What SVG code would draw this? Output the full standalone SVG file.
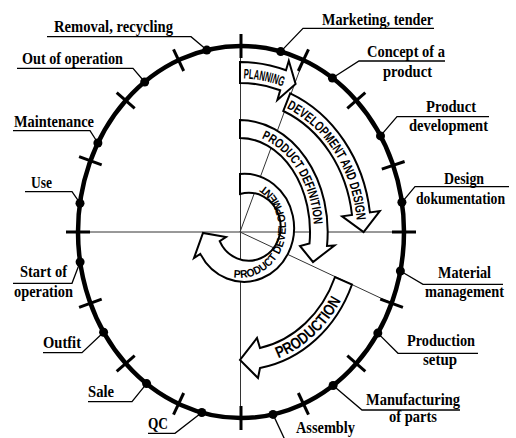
<svg xmlns="http://www.w3.org/2000/svg" width="516" height="438" viewBox="0 0 516 438">
  <style>
    .axis{fill:none;stroke:#333;stroke-width:1}
    .ring{fill:none;stroke:#000;stroke-width:4.5}
    .tick{stroke:#000;stroke-width:3}
    .dot{fill:#000}
    .lead{fill:none;stroke:#000;stroke-width:1.3}
    .lbl{font-family:"Liberation Serif","Times New Roman",serif;font-weight:bold;font-size:16.5px;fill:#000}
    .band{fill:#fff;stroke:#000;stroke-width:2;stroke-linejoin:miter}
    .btxt{font-family:"Liberation Sans",Arial,sans-serif;font-weight:bold;fill:#000}
  </style>
  <defs>
    <!-- baselines for the lettering inside the phase arrows -->
    <path id="tpPlan" d="M243.5,78.55 A134,153.5 0 0 1 283.6,86.9"/>
    <path id="tpDev" d="M286.6,108.2 A117,135 0 0 1 356.7,222.6"/>
    <path id="tpDef" d="M261.6,138.3 A74,98 0 0 1 313.9,226.9"/>
    <path id="tpProd" d="M278.3,358.2 A117.5,133.5 0 0 0 341.8,298.8"/>
    <path id="tpPD" d="M233.6,277.5 A46,50 0 0 0 261.6,183.9"/>
  </defs>
  <rect width="516" height="438" fill="#fff"/>

  <!-- thin construction lines -->
  <g id="axes">
    <line class="axis" x1="78" y1="232" x2="404" y2="232"/>
    <line class="axis" x1="240.5" y1="46" x2="240.5" y2="418"/>
    <line class="axis" x1="240" y1="232" x2="303.4" y2="60.2"/>
    <line class="axis" x1="240" y1="232" x2="391.6" y2="303.2"/>
  </g>

  <!-- life-cycle ring with phase ticks -->
  <g id="ring">
    <ellipse class="ring" cx="241" cy="232" rx="163" ry="186"/>
    <line class="tick" x1="241" y1="34" x2="241" y2="58"/>
    <line class="tick" x1="298.3" y1="71" x2="308.5" y2="49.4"/>
    <line class="tick" x1="347.3" y1="108.4" x2="365.3" y2="92.6"/>
    <line class="tick" x1="381.8" y1="169.1" x2="404.6" y2="161.5"/>
    <line class="tick" x1="392" y1="232" x2="416" y2="232"/>
    <line class="tick" x1="380.3" y1="299.1" x2="402.9" y2="307.3"/>
    <line class="tick" x1="347.3" y1="355.6" x2="365.3" y2="371.4"/>
    <line class="tick" x1="298.3" y1="393" x2="308.5" y2="414.6"/>
    <line class="tick" x1="241" y1="406" x2="241" y2="430"/>
    <line class="tick" x1="183.7" y1="393" x2="173.5" y2="414.6"/>
    <line class="tick" x1="134.7" y1="355.6" x2="116.7" y2="371.4"/>
    <line class="tick" x1="101.7" y1="299.1" x2="79.1" y2="307.3"/>
    <line class="tick" x1="90" y1="232" x2="66" y2="232"/>
    <line class="tick" x1="101.7" y1="164.9" x2="79.1" y2="156.7"/>
    <line class="tick" x1="134.7" y1="108.4" x2="116.7" y2="92.6"/>
    <line class="tick" x1="183.7" y1="71" x2="173.5" y2="49.4"/>
  </g>

  <!-- phase arrows -->
  <g id="planning">
    <path class="band" d="M240,62 A149,170 0 0 1 286,70.3 L288.8,60.7 L295.6,83.9 L277.4,99.9 L280.2,90.3 A130,149 0 0 0 240,83 Z"/>
    <text class="btxt" font-size="14"><textPath href="#tpPlan" textLength="40" lengthAdjust="spacingAndGlyphs">PLANNING</textPath></text>
  </g>
  <g id="development-design">
    <path class="band" d="M290.2,93.4 A131,150 0 0 1 369.9,212.4 L379.8,211 L363.6,232 L342.1,216.3 L352,214.9 A113,131 0 0 0 283.3,111 Z"/>
    <text class="btxt" font-size="13.5"><textPath href="#tpDev" textLength="138" lengthAdjust="spacingAndGlyphs">DEVELOPMENT AND DESIGN</textPath></text>
  </g>
  <g id="product-definition">
    <path class="band" d="M240,120 A88,112 0 0 1 327,246 L334.5,245.5 L313,262 L300,246 L309.5,243.5 A70,94 0 0 0 240,138 Z"/>
    <text class="btxt" font-size="13"><textPath href="#tpDef" textLength="106" lengthAdjust="spacingAndGlyphs">PRODUCT DEFINITION</textPath></text>
  </g>
  <g id="product-development">
    <path class="band" d="M240,174 A50,54 0 1 1 200.3,253.9 L194,258 L203,233 L226,237 L219.7,241.1 A32,34 0 1 0 240,194 Z"/>
    <text class="btxt" font-size="11"><textPath href="#tpPD" textLength="132" lengthAdjust="spacingAndGlyphs">PRODUCT DEVELOPMENT</textPath></text>
  </g>
  <g id="production">
    <path class="band" d="M352,284.5 A121,137 0 0 1 260,368 L258,378 L240,360 L257,338 L260,348 A103,117 0 0 0 335,277 Z"/>
    <text class="btxt" font-size="16"><textPath href="#tpProd" textLength="87" lengthAdjust="spacingAndGlyphs">PRODUCTION</textPath></text>
  </g>

  <!-- leader lines from the ring points to their labels -->
  <g id="connectors">
    <path class="lead" d="M47,36.7 H191 L206.8,50.1"/>
    <path class="lead" d="M17,68.3 H133 L144.7,82"/>
    <path class="lead" d="M13,130.7 H90 L97.9,143"/>
    <path class="lead" d="M25,191.7 H72 L80,203.2"/>
    <path class="lead" d="M13,283.3 H72 L80.1,262"/>
    <path class="lead" d="M43,352.7 H82 L103.6,332.2"/>
    <path class="lead" d="M88,401.7 H132 L146.6,383.6"/>
    <path class="lead" d="M148,433.3 H175 L201.8,412.5"/>
    <path class="lead" d="M434,28.3 H303 L280.7,51.6"/>
    <path class="lead" d="M445,61 H359 L332.4,78"/>
    <path class="lead" d="M489,116.7 H397 L380.5,135.9"/>
    <path class="lead" d="M509,186.7 H415 L401.9,202.3"/>
    <path class="lead" d="M503,284.3 H423 L400.4,271"/>
    <path class="lead" d="M478,353.3 H398 L377.8,333.1"/>
    <path class="lead" d="M460,410 H362 L333.1,385.5"/>
    <path class="lead" d="M273,414.4 L285,440"/>
  </g>

  <!-- stages on the ring -->
  <g id="marketing"><circle class="dot" cx="280.7" cy="51.6" r="4.5"/><text class="lbl" x="322" y="24.5" textLength="111" lengthAdjust="spacingAndGlyphs">Marketing, tender</text></g>
  <g id="concept"><circle class="dot" cx="332.4" cy="78" r="4.5"/><text class="lbl" x="367" y="57.3" textLength="78" lengthAdjust="spacingAndGlyphs">Concept of a</text><text class="lbl" x="383" y="76.5" textLength="49" lengthAdjust="spacingAndGlyphs">product</text></g>
  <g id="product-dev"><circle class="dot" cx="380.5" cy="135.9" r="4.5"/><text class="lbl" x="426" y="112" textLength="50" lengthAdjust="spacingAndGlyphs">Product</text><text class="lbl" x="409" y="130.7" textLength="79" lengthAdjust="spacingAndGlyphs">development</text></g>
  <g id="design-doc"><circle class="dot" cx="401.9" cy="202.3" r="4.5"/><text class="lbl" x="444" y="184" textLength="40" lengthAdjust="spacingAndGlyphs">Design</text><text class="lbl" x="416" y="203.5" textLength="89" lengthAdjust="spacingAndGlyphs">dokumentation</text></g>
  <g id="material"><circle class="dot" cx="400.4" cy="271" r="4.5"/><text class="lbl" x="438" y="278" textLength="53" lengthAdjust="spacingAndGlyphs">Material</text><text class="lbl" x="425" y="296.7" textLength="79" lengthAdjust="spacingAndGlyphs">management</text></g>
  <g id="production-setup"><circle class="dot" cx="377.8" cy="333.1" r="4.5"/><text class="lbl" x="407" y="346" textLength="68" lengthAdjust="spacingAndGlyphs">Production</text><text class="lbl" x="423" y="365" textLength="34" lengthAdjust="spacingAndGlyphs">setup</text></g>
  <g id="manufacturing"><circle class="dot" cx="333.1" cy="385.5" r="4.5"/><text class="lbl" x="366" y="404.5" textLength="94" lengthAdjust="spacingAndGlyphs">Manufacturing</text><text class="lbl" x="389" y="421.7" textLength="48" lengthAdjust="spacingAndGlyphs">of parts</text></g>
  <g id="assembly"><circle class="dot" cx="273" cy="414.4" r="4.5"/><text class="lbl" x="296" y="433" textLength="59" lengthAdjust="spacingAndGlyphs">Assembly</text></g>
  <g id="qc"><circle class="dot" cx="201.8" cy="412.5" r="4.5"/><text class="lbl" x="148" y="429.3" textLength="20" lengthAdjust="spacingAndGlyphs">QC</text></g>
  <g id="sale"><circle class="dot" cx="146.6" cy="383.6" r="4.5"/><text class="lbl" x="88" y="396.7" textLength="26" lengthAdjust="spacingAndGlyphs">Sale</text></g>
  <g id="outfit"><circle class="dot" cx="103.6" cy="332.2" r="4.5"/><text class="lbl" x="43" y="348.3" textLength="38" lengthAdjust="spacingAndGlyphs">Outfit</text></g>
  <g id="start-of-operation"><circle class="dot" cx="80.1" cy="262" r="4.5"/><text class="lbl" x="20" y="277.3" textLength="47" lengthAdjust="spacingAndGlyphs">Start of</text><text class="lbl" x="14" y="296.7" textLength="59" lengthAdjust="spacingAndGlyphs">operation</text></g>
  <g id="use"><circle class="dot" cx="80" cy="203.2" r="4.5"/><text class="lbl" x="31" y="188.3" textLength="21" lengthAdjust="spacingAndGlyphs">Use</text></g>
  <g id="maintenance"><circle class="dot" cx="97.9" cy="143" r="4.5"/><text class="lbl" x="14" y="127.3" textLength="80" lengthAdjust="spacingAndGlyphs">Maintenance</text></g>
  <g id="out-of-operation"><circle class="dot" cx="144.7" cy="82" r="4.5"/><text class="lbl" x="22" y="64.3" textLength="101" lengthAdjust="spacingAndGlyphs">Out of operation</text></g>
  <g id="removal"><circle class="dot" cx="206.8" cy="50.1" r="4.5"/><text class="lbl" x="54" y="32.3" textLength="119" lengthAdjust="spacingAndGlyphs">Removal, recycling</text></g>
</svg>
